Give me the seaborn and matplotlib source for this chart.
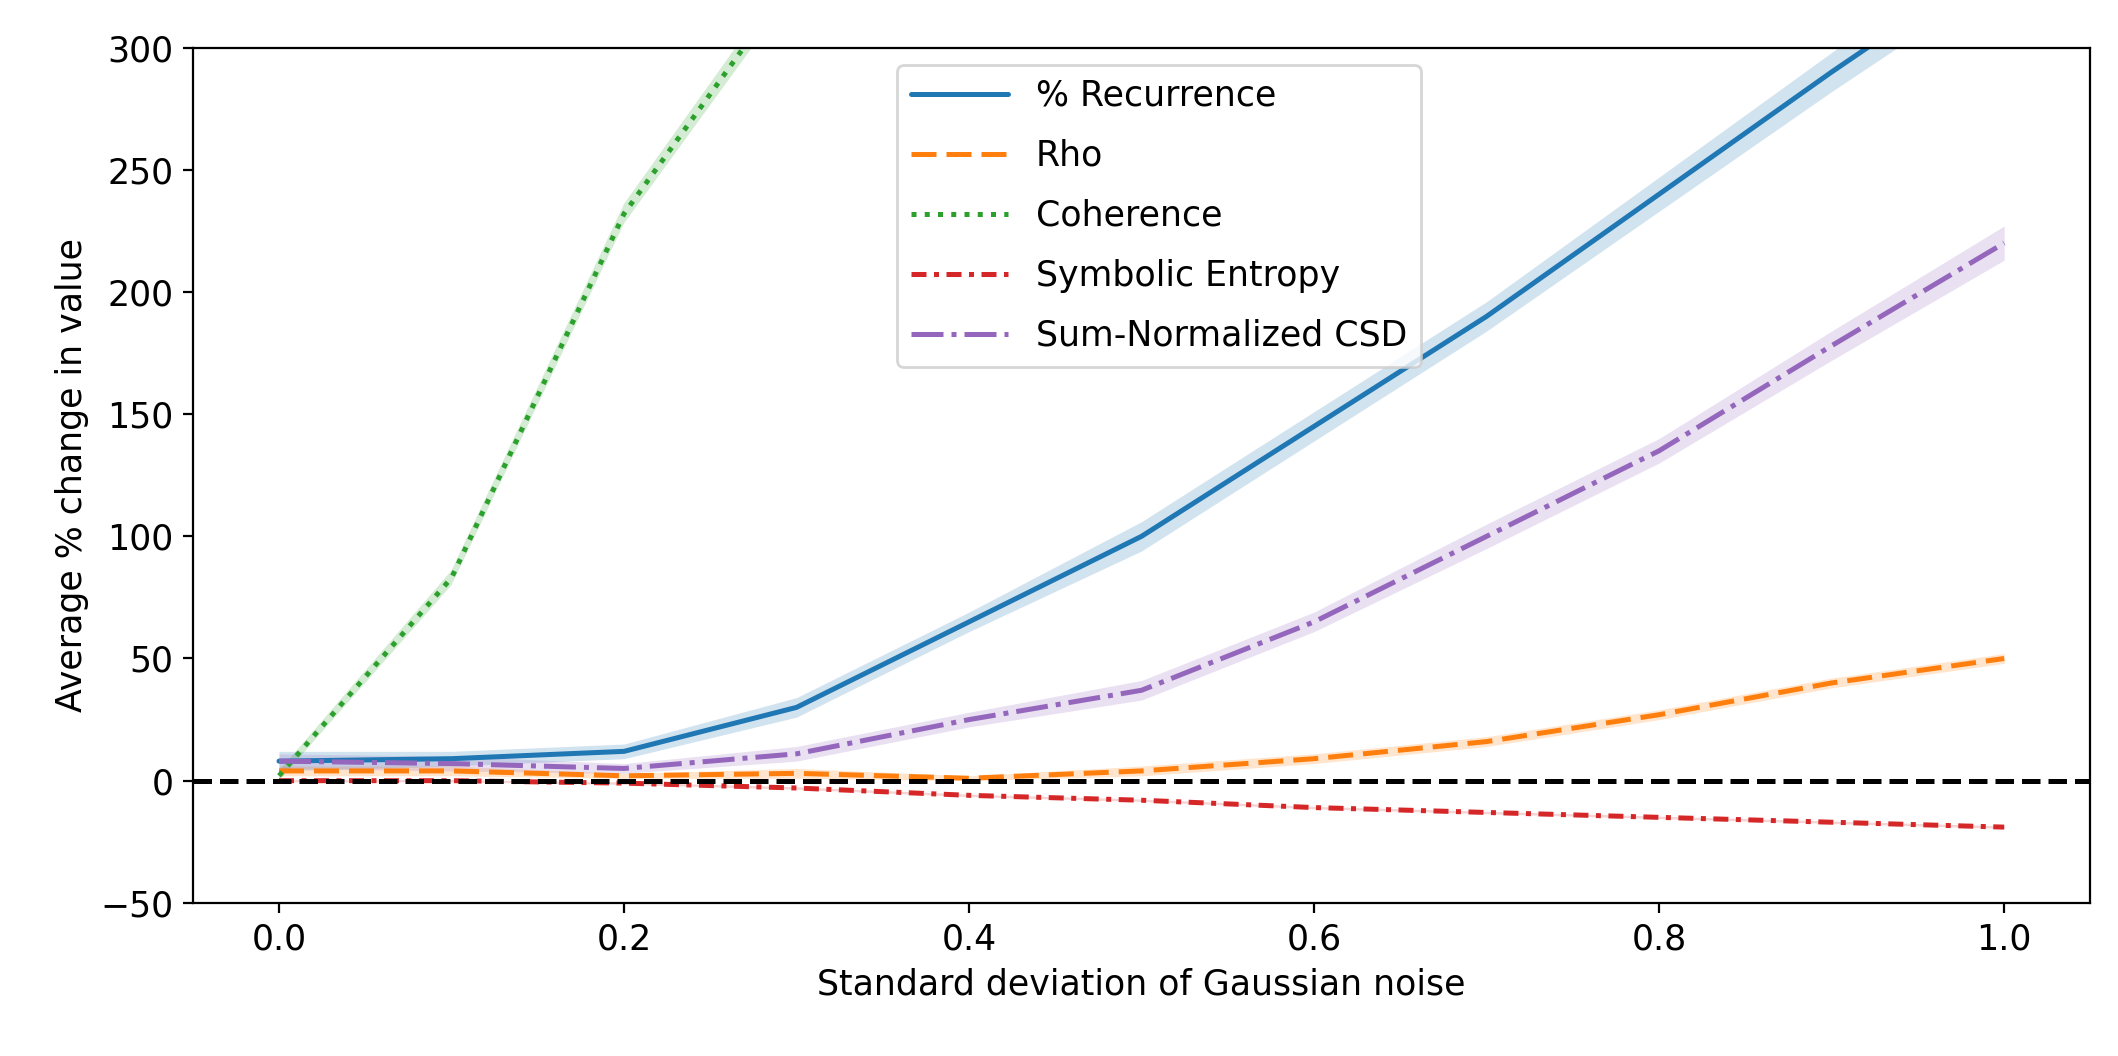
import numpy as np
import pandas as pd
import matplotlib
matplotlib.use("Agg")
import matplotlib.pyplot as plt
import seaborn as sns

noise = [0.0, 0.1, 0.2, 0.3, 0.4, 0.5, 0.6, 0.7, 0.8, 0.9, 1.0]
recurrence = [8, 9, 12, 30, 65, 100, 145, 190, 240, 290, 338]
rho = [4, 4, 2, 3, 1, 4, 9, 16, 27, 40, 50]
coherence = [2, 83, 232, 330, 430, 530, 630, 730, 830, 930, 1030]
entropy = [0, 0, -1, -3, -6, -8, -11, -13, -15, -17, -19]
csd = [8, 7, 5, 11, 25, 37, 65, 100, 135, 178, 220]

rec_err = [4, 3, 3, 4, 4, 6, 6, 6, 7, 8, 9]
rho_err = [2, 2, 1, 2, 1, 2, 2, 2, 2, 2, 2]
coh_err = [2, 3, 4, 5, 5, 5, 5, 5, 5, 5, 5]
ent_err = [0.5] * 11
csd_err = [3, 3, 2, 3, 3, 4, 4, 5, 5, 6, 7]

series = [
    ("% Recurrence", recurrence, rec_err, "#1f77b4", "-"),
    ("Rho", rho, rho_err, "#ff7f0e", (0, (5, 2))),
    ("Coherence", coherence, coh_err, "#2ca02c", ":"),
    ("Symbolic Entropy", entropy, ent_err, "#d62728", (0, (3, 1.5, 1, 1.5))),
    ("Sum-Normalized CSD", csd, csd_err, "#9467bd", "-."),
]

sns.set_style("ticks")
plt.rcParams["font.family"] = ["DejaVu Sans"]
for k in ["text.color", "axes.labelcolor", "xtick.color", "ytick.color", "axes.edgecolor"]:
    plt.rcParams[k] = "black"
fig, ax = plt.subplots(figsize=(10.59, 5.28), dpi=200)
fig.subplots_adjust(left=0.091, right=0.987, top=0.955, bottom=0.145)

for name, vals, err, color, ls in series:
    df = pd.DataFrame({"x": noise, "y": vals})
    sns.lineplot(data=df, x="x", y="y", ax=ax, color=color, linestyle=ls,
                 linewidth=1.8, label=name)
    v = np.array(vals, dtype=float)
    e = np.array(err, dtype=float)
    ax.fill_between(noise, v - e, v + e, color=color, alpha=0.2, linewidth=0)

ax.axhline(0, color="black", linestyle="--", linewidth=1.8)
ax.set_ylim(-50, 300)
ax.set_xlim(-0.05, 1.05)
ax.set_xlabel("Standard deviation of Gaussian noise", fontsize=12.5)
ax.set_ylabel("Average % change in value", fontsize=12.5)
ax.tick_params(labelsize=12.5)
ax.legend(loc="upper left", bbox_to_anchor=(0.362, 1.0), fontsize=12.5,
          handlelength=2.8, labelspacing=0.75)
fig.savefig("out.png", dpi=200)
